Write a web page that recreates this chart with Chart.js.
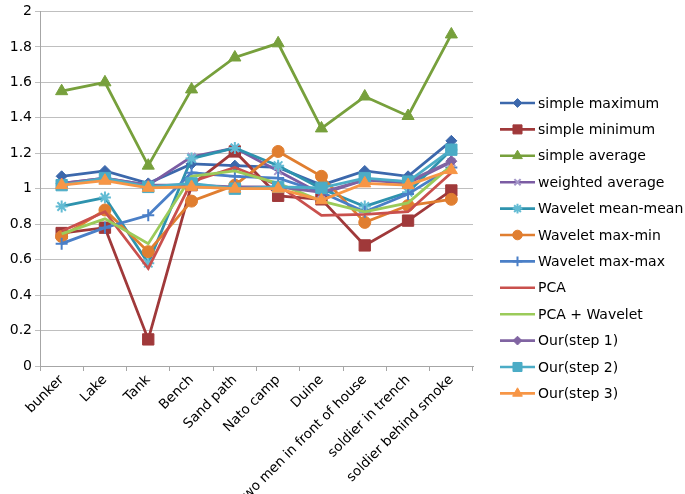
<!DOCTYPE html>
<html><head><meta charset="utf-8">
<script src="https://cdn.jsdelivr.net/npm/chart.js@4/dist/chart.umd.min.js"></script>
<style>html,body{margin:0;padding:0;background:#fff;}#wrap{width:685px;height:494px;}</style>
</head><body><div id="wrap"><canvas id="c" width="685" height="494"></canvas></div>
<script>
const categories = ['bunker','Lake','Tank','Bench','Sand path','Nato camp','Duine','two men in front of house','soldier in trench','soldier behind smoke'];
const yTicks = [0,0.2,0.4,0.6,0.8,1,1.2,1.4,1.6,1.8,2];
const seriesNames = ['simple maximum','simple minimum','simple average','weighted average','Wavelet mean-mean','Wavelet max-min','Wavelet max-max','PCA','PCA + Wavelet','Our(step 1)','Our(step 2)','Our(step 3)'];
const simpleMaximum   = [1.07,1.10,1.03,1.14,1.13,1.12,1.02,1.10,1.07,1.27];
const simpleMinimum   = [0.75,0.78,0.15,1.02,1.21,0.96,0.94,0.68,0.82,0.99];
const simpleAverage   = [1.55,1.60,1.13,1.56,1.74,1.82,1.34,1.52,1.41,1.87];
const weightedAverage = [1.03,1.06,1.02,1.18,1.23,1.10,0.97,1.05,1.03,1.15];
const waveletMeanMean = [0.90,0.95,0.58,1.17,1.23,1.13,1.00,0.90,0.98,1.22];
const waveletMaxMin   = [0.73,0.88,0.645,0.93,1.02,1.21,1.07,0.81,0.905,0.94];
const waveletMaxMax   = [0.69,0.78,0.85,1.09,1.07,1.06,0.98,0.87,0.97,1.12];
const pca             = [0.76,0.87,0.55,1.04,1.12,1.02,0.85,0.855,0.87,1.09];
const pcaWavelet      = [0.745,0.83,0.69,1.07,1.10,1.03,0.93,0.87,0.92,1.13];
const ourStep1        = [1.03,1.06,1.02,1.02,1.01,1.01,0.98,1.05,1.04,1.155];
const ourStep2        = [1.02,1.06,1.01,1.03,1.00,1.01,1.005,1.06,1.04,1.22];
const ourStep3        = [1.02,1.045,1.005,1.01,1.00,1.00,0.935,1.03,1.02,1.105];

const seriesData = [simpleMaximum,simpleMinimum,simpleAverage,weightedAverage,waveletMeanMean,waveletMaxMin,waveletMaxMax,pca,pcaWavelet,ourStep1,ourStep2,ourStep3];
const lineColors = ['#3C68AC','#A0393A','#77A03C','#7B5CA3','#2E93AE','#E07E30','#4A7FC7','#C9504D','#9BCB5A','#8064A2','#4BACC6','#F79646'];
const markerColors = ['#3C68AC','#A0393A','#77A03C','#A395C8','#63BCD4','#E07E30','#4A7FC7','#C9504D','#9BCB5A','#8064A2','#4BACC6','#F79646'];
const markerStyles = ['rectRot','rect','triangle','crossRot','star','circle','cross',false,false,'rectRot','rect','triangle'];
const markerRadii = [5.5,8,7,5.5,6,6,6,0,0,5.5,8,7];

const FONT = 'DejaVu Sans';

const datasets = seriesData.map((d,i)=>({
  label: seriesNames[i],
  data: d,
  borderColor: lineColors[i],
  backgroundColor: markerColors[i],
  borderWidth: 2.8,
  tension: 0,
  pointStyle: markerStyles[i],
  pointRadius: markerRadii[i],
  pointHoverRadius: markerRadii[i],
  pointBackgroundColor: markerColors[i],
  pointBorderColor: markerColors[i],
  pointBorderWidth: (markerStyles[i]==='crossRot'||markerStyles[i]==='star'||markerStyles[i]==='cross')?2:1,
  order: seriesData.length - i
}));

const legendPlugin = {
  id: 'excelLegend',
  afterDraw(chart){
    const ctx = chart.ctx;
    const x0 = 500, x1 = 535, tx = 538, y0 = 103, dy = 26.4;
    ctx.save();
    ctx.font = '14px "' + FONT + '"';
    ctx.textBaseline = 'middle';
    ctx.fillStyle = '#000';
    chart.data.datasets.forEach((ds,i)=>{
      const y = y0 + i*dy;
      ctx.strokeStyle = ds.borderColor;
      ctx.lineWidth = 2.6;
      ctx.beginPath(); ctx.moveTo(x0,y); ctx.lineTo(x1,y); ctx.stroke();
      if (ds.pointStyle) {
        ctx.fillStyle = ds.pointBackgroundColor;
        ctx.strokeStyle = ds.pointBorderColor;
        ctx.lineWidth = ds.pointBorderWidth;
        Chart.helpers.drawPoint(ctx, {pointStyle: ds.pointStyle, radius: ds.pointRadius*0.8, rotation: 0, borderWidth: ds.pointBorderWidth}, (x0+x1)/2, y);
      }
      ctx.fillStyle = '#000';
      ctx.fillText(ds.label, tx, y+1);
    });
    ctx.restore();
  }
};

new Chart(document.getElementById('c'), {
  type: 'line',
  data: { labels: categories, datasets },
  options: {
    responsive: false,
    animation: false,
    devicePixelRatio: 1,
    layout: { padding: { left: 0, right: 212, top: 6, bottom: 0 } },
    plugins: { legend: { display: false }, tooltip: { enabled: false } },
    scales: {
      x: {
        type: 'category',
        offset: true,
        grid: { offset: true, drawOnChartArea: false, drawTicks: true, tickLength: 5, color: '#a6a6a6' },
        border: { color: '#a6a6a6', width: 1 },
        ticks: { autoSkip: false, maxRotation: 45, minRotation: 45, color: '#000', font: { family: FONT, size: 13.5 }, padding: 1 },
        afterFit(s){ s.height = 128; }
      },
      y: {
        min: 0, max: 2,
        afterBuildTicks(s){ s.ticks = yTicks.map(v=>({value:v})); },
        grid: { color: '#bfbfbf', lineWidth: 1, drawTicks: true, tickLength: 5 },
        border: { color: '#a6a6a6', width: 1 },
        ticks: { color: '#000', font: { family: FONT, size: 14 }, padding: 3, callback: v => String(v) },
        afterFit(s){ s.width = 40; }
      }
    }
  },
  plugins: [legendPlugin]
});
</script>
</body></html>
